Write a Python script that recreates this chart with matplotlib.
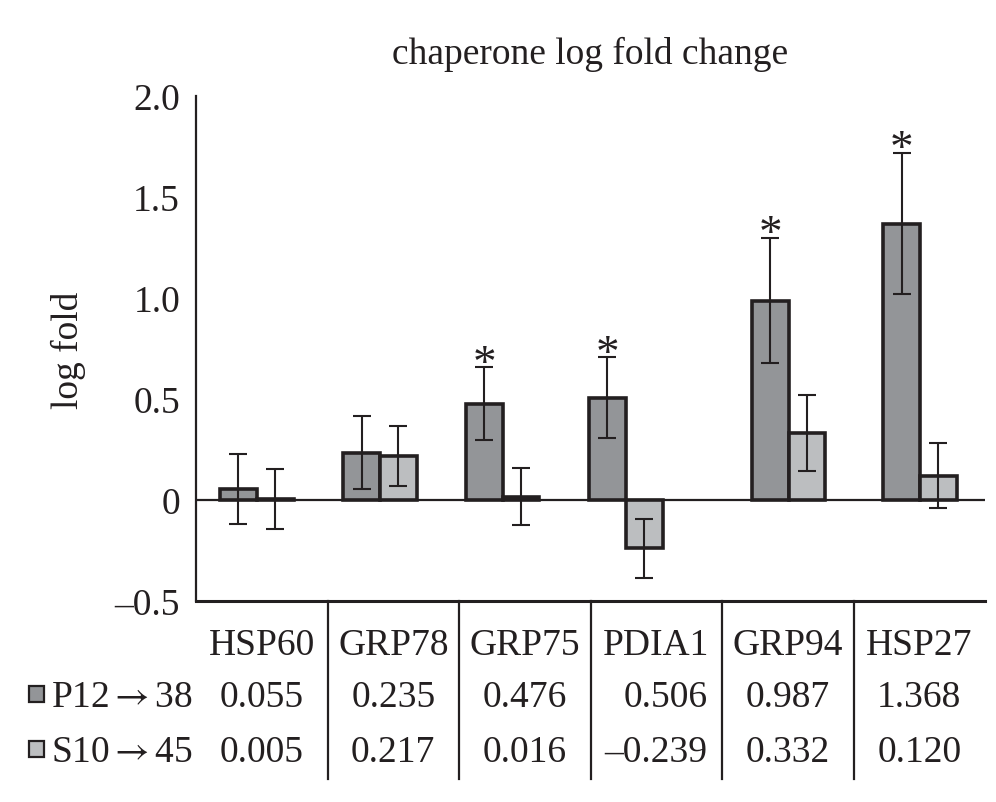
import matplotlib
import matplotlib.pyplot as plt
from matplotlib.patches import Rectangle
from matplotlib.lines import Line2D
from matplotlib.transforms import blended_transform_factory

matplotlib.use("Agg")

# --- data ---
genes = ["HSP60", "GRP78", "GRP75", "PDIA1", "GRP94", "HSP27"]
series_names = ["P12$\\rightarrow$38", "S10$\\rightarrow$45"]
p12_vals = [0.055, 0.235, 0.476, 0.506, 0.987, 1.368]
s10_vals = [0.005, 0.217, 0.016, -0.239, 0.332, 0.120]
p12_err = [0.175, 0.18, 0.18, 0.20, 0.31, 0.35]
s10_err = [0.15, 0.15, 0.14, 0.145, 0.19, 0.16]
p12_signif = [False, False, True, True, True, True]
ytick_vals = [-0.5, 0, 0.5, 1.0, 1.5, 2.0]
ytick_labels = ["\u20130.5", "0", "0.5", "1.0", "1.5", "2.0"]
p12_labels = ["0.055", "0.235", "0.476", "0.506", "0.987", "1.368"]
s10_labels = ["0.005", "0.217", "0.016", "\u20130.239", "0.332", "0.120"]

# --- layout (bar groups are not exactly centred on table columns) ---
group_centers = [-0.038, 0.899, 1.832, 2.768, 4.007, 5.006]
BAR_W = 0.28
DARK = "#939598"
LIGHT = "#bcbec0"
INK = "#231f20"
FS = 27

plt.rcParams["font.family"] = ["Liberation Serif", "DejaVu Serif"]
plt.rcParams["mathtext.fontset"] = "stix"
plt.rcParams["mathtext.rm"] = "Liberation Serif"

fig = plt.figure(figsize=(9.96, 8.03), dpi=100)
ax = fig.add_axes([196 / 996, 1 - 602 / 803, (985 - 196) / 996, (602 - 97) / 803])

x_p12 = [c - BAR_W / 2 for c in group_centers]
x_s10 = [c + BAR_W / 2 for c in group_centers]

ax.axhline(0, color=INK, lw=1.6, zorder=1)
ax.bar(x_p12, p12_vals, width=BAR_W, color=DARK, edgecolor=INK, linewidth=2.6, zorder=2)
ax.bar(x_s10, s10_vals, width=BAR_W, color=LIGHT, edgecolor=INK, linewidth=2.6, zorder=2)
ax.errorbar(x_p12, p12_vals, yerr=p12_err, fmt="none", ecolor=INK, elinewidth=1.5,
            capsize=6.7, capthick=1.5, zorder=3)
ax.errorbar(x_s10, s10_vals, yerr=s10_err, fmt="none", ecolor=INK, elinewidth=1.5,
            capsize=6.7, capthick=1.5, zorder=3)

# significance stars
for x, v, e, s in zip(x_p12, p12_vals, p12_err, p12_signif):
    if s:
        ax.annotate("*", (x, v + e), xytext=(0, -6), textcoords="offset points",
                    ha="center", va="baseline", fontsize=34, color=INK)

ax.set_xlim(-0.5, 5.5)
ax.set_ylim(-0.5, 2.0)
ax.set_xticks([])
ax.set_yticks(ytick_vals)
ax.set_yticklabels(ytick_labels)
ax.tick_params(axis="y", length=0, pad=11.5, labelsize=FS, labelcolor=INK)
for side in ["top", "right"]:
    ax.spines[side].set_visible(False)
ax.spines["left"].set_linewidth(1.6)
ax.spines["bottom"].set_linewidth(2.2)
ax.spines["left"].set_color(INK)
ax.spines["bottom"].set_color(INK)

ax.set_title("chaperone log fold change", fontsize=FS, color=INK, pad=24)
fig.text(68 / 996, 1 - 350 / 803, "log fold", rotation=90, ha="center", va="center",
         fontsize=FS, color=INK)

# --- data table under the axis ---
tr = blended_transform_factory(ax.transData, fig.transFigure)
row_y = [1 - 655 / 803, 1 - 707 / 803, 1 - 762 / 803]

for b in [0.5, 1.5, 2.5, 3.5, 4.5]:
    fig.add_artist(Line2D([b, b], [1 - 602 / 803, 1 - 780 / 803], transform=tr,
                          color=INK, lw=1.6))

for i, g in enumerate(genes):
    fig.text(i, row_y[0], g, transform=tr, ha="center", va="baseline", fontsize=FS, color=INK)

col_texts = []
for i in range(len(genes)):
    t1 = fig.text(i, row_y[1], p12_labels[i], transform=tr, ha="right", va="baseline",
                  fontsize=FS, color=INK)
    t2 = fig.text(i, row_y[2], s10_labels[i], transform=tr, ha="right", va="baseline",
                  fontsize=FS, color=INK)
    col_texts.append((t1, t2))

# right-align each column's numbers, with the widest one centred
fig.canvas.draw()
renderer = fig.canvas.get_renderer()
for i, (t1, t2) in enumerate(col_texts):
    w = max(t1.get_window_extent(renderer).width, t2.get_window_extent(renderer).width)
    cx = ax.transData.transform((i, 0))[0]
    xr = ax.transData.inverted().transform((cx + w / 2, 0))[0]
    t1.set_x(xr)
    t2.set_x(xr)

# legend keys + series names
for name, color, y in zip(series_names, [DARK, LIGHT], row_y[1:]):
    sq_y = y + 4 / 803
    fig.add_artist(Rectangle((29 / 996, sq_y), 15 / 996, 16 / 803, transform=fig.transFigure,
                             facecolor=color, edgecolor=INK, lw=1.6))
    fig.text(51 / 996, y, name, ha="left", va="baseline", fontsize=FS, color=INK)

fig.savefig("out.png", dpi=100)
